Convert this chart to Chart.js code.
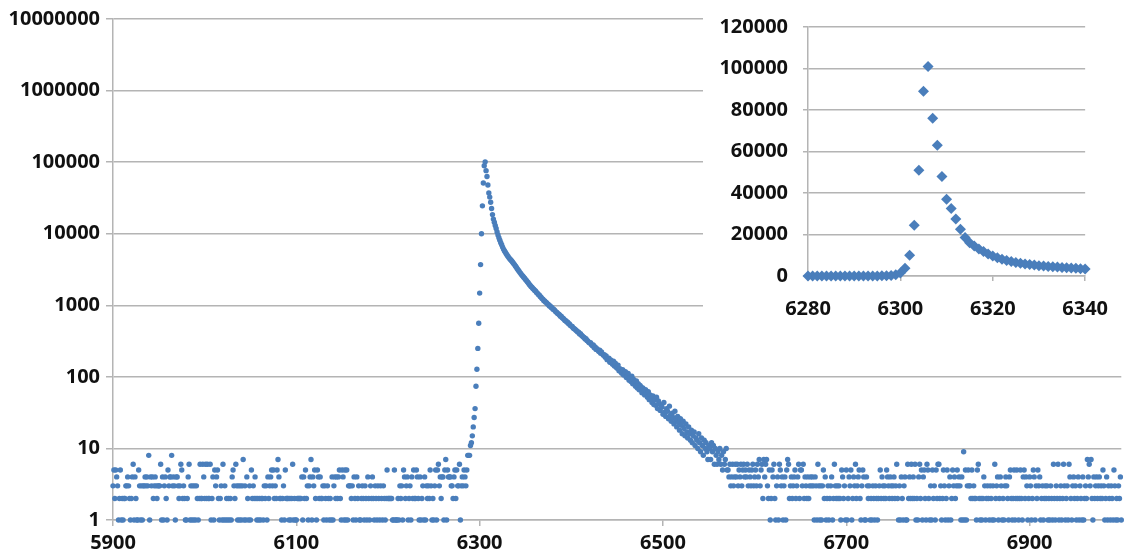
<!DOCTYPE html>
<html>
<head>
<meta charset="utf-8">
<script src="https://cdn.jsdelivr.net/npm/chart.js@4/dist/chart.umd.min.js"></script>
<style>
html,body{margin:0;padding:0;background:#ffffff;}
#wrap{position:relative;width:1124px;height:556px;overflow:hidden;}
#main{position:absolute;left:0;top:0;}
#inset{position:absolute;left:703px;top:0;background:#ffffff;}
</style>
</head>
<body>
<div id="wrap">
<canvas id="main" width="1124" height="556"></canvas>
<canvas id="inset" width="421" height="330"></canvas>
</div>
<script>
// ---------------- DATA ----------------
const firstChannel = 5900;

// counts per channel 5900..6287 (one digit per channel)
const baselineLeft = [
  "3525431251","2122334321","2461421153","1313343438","1434234323",
  "3361413421","5344834314","4323652321","1246131313","1321262264",
  "2626226124","1534521231","6131212121","4532631313","1371314213",
  "1523242121","2122132314","2345352325","7422123152","2212126121",
  "1222224142","5231347143","5215424223","1321321214","1342424521",
  "5415151333","2314214231","1232132142","1324213213","2132132125",
  "2222211511","1213231542","3412314252","2542141231","4132325312",
  "1351563424","4157154443","3245253361","34354358"
];

// counts 6288..6306 (rising edge and peak)
const risingEdge = [8, 8, 11, 12, 15, 20, 27, 36, 74, 128, 250, 560, 1480, 3700, 10000, 24500, 51000, 89000, 101000];

// counts 6307..6340 (fast decay)
const fastDecay = [76000, 63000, 48000, 37000, 32500, 27500, 22500, 18500, 16000, 14500,
  13000, 11800, 10600, 9600, 8800, 8100, 7500, 7000, 6500, 6100,
  5800, 5500, 5250, 5000, 4800, 4600, 4450, 4300, 4150, 4000,
  3850, 3700, 3550, 3400];

// counts 6341..6570 (slow decay tail)
const slowDecay = [
  3250, 3110, 3000, 2860, 2760, 2640, 2570, 2460, 2390, 2290,
  2220, 2130, 2070, 1970, 1910, 1830, 1790, 1720, 1680, 1610,
  1580, 1510, 1480, 1410, 1390, 1330, 1300, 1240, 1220, 1160,
  1150, 1100, 1090, 1040, 1030, 980, 975, 930, 925, 880,
  872, 845, 810, 802, 770, 756, 740, 705, 702, 668,
  660, 640, 615, 610, 585, 578, 552, 548, 520, 512,
  505, 482, 470, 465, 448, 438, 425, 420, 396, 402,
  382, 372, 360, 356, 338, 342, 322, 318, 305, 298,
  300, 282, 272, 280, 255, 262, 242, 248, 236, 226,
  236, 214, 222, 208, 200, 204, 188, 196, 174, 180,
  182, 160, 172, 158, 150, 166, 142, 155, 136, 132,
  146, 122, 130, 118, 112, 126, 106, 110, 118, 98,
  104, 112, 90, 96, 86, 102, 80, 92, 84, 74,
  88, 70, 80, 66, 76, 72, 60, 70, 64, 56,
  66, 58, 52, 62, 48, 56, 50, 44, 54, 41,
  48, 40, 52, 36, 46, 42, 34, 40, 38, 30,
  44, 32, 28, 36, 33, 26, 39, 29, 24, 31,
  27, 22, 33, 25, 20, 28, 23, 18, 26, 21,
  16, 24, 19, 15, 22, 17, 14, 20, 16, 13,
  18, 12, 15, 17, 11, 14, 13, 10, 16, 12,
  9, 14, 11, 8, 13, 10, 12, 9, 7, 11,
  10, 7, 12, 9, 11, 6, 10, 8, 6, 9,
  7, 10, 6, 8, 5, 9, 6, 7, 10, 5
];

// counts per channel 6571..7000 (one digit per channel)
const baselineRight = [
  "5463463464","6354635645","4635435634","5364735627","4673251254",
  "6213416534","1341576234","2345234625","5362432423","4343143163",
  "1313524123","1234126323","2321542315","1243512436","2345213541",
  "1432312132","1321235243","2325432432","3423621314","2134116242",
  "6242612146","2514521652","1315231526","6231253125","1341253423",
  "5343141915","1353325232","2156212124","3123213213","1623412431",
  "2134321452","1251252125","2145243124","3125413253","4123123231",
  "2132162132","6123126312","3164213423","1241321412","3274637214",
  "2342342325","3124132132","1531213241"
];

const mainXTicks = [5900, 6100, 6300, 6500, 6700, 6900];
const mainYTicks = [1, 10, 100, 1000, 10000, 100000, 1000000, 10000000];
const insetXTicks = [6280, 6300, 6320, 6340];
const insetYTicks = [0, 20000, 40000, 60000, 80000, 100000, 120000];

// ---------------- BUILD ----------------
const counts = [];
baselineLeft.join("").split("").forEach(c => counts.push(Number(c)));
counts.push(...risingEdge, ...fastDecay, ...slowDecay);
baselineRight.join("").split("").forEach(c => counts.push(Number(c)));

const allPoints = counts.map((v, i) => ({ x: firstChannel + i, y: v }));
const logPoints = allPoints.filter(p => p.y > 0);
const insetPoints = allPoints.filter(p => p.x >= insetXTicks[0] && p.x <= insetXTicks[insetXTicks.length - 1]);

const blue = '#4a7ebb';
const gridColor = '#b4b4b4';
const textColor = '#111111';
const tickFont = { family: '"Open Sans", "Liberation Sans", sans-serif', size: 20, weight: 'bold' };
const plain = v => String(v);

function fixedTicks(list) {
  return function (scale) { scale.ticks = list.map(v => ({ value: v })); };
}

new Chart(document.getElementById('main'), {
  type: 'scatter',
  data: { datasets: [{
    data: logPoints,
    pointStyle: 'circle',
    pointRadius: 2.7,
    pointHoverRadius: 2.7,
    pointBackgroundColor: blue,
    pointBorderWidth: 0,
    showLine: false,
    clip: false
  }] },
  options: {
    responsive: false,
    animation: false,
    events: [],
    layout: { padding: { top: 19, right: 2, left: 0, bottom: 0 } },
    plugins: { legend: { display: false }, tooltip: { enabled: false } },
    scales: {
      x: {
        type: 'linear', min: 5900, max: 7000,
        afterBuildTicks: fixedTicks(mainXTicks),
        afterFit: s => { s.height = 36; },
        grid: { drawOnChartArea: false, drawTicks: true, tickLength: 6, color: gridColor, lineWidth: 1.5 },
        border: { display: true, color: gridColor, width: 1.5 },
        ticks: { font: tickFont, color: textColor, padding: 5, maxRotation: 0, autoSkip: false, callback: plain }
      },
      y: {
        type: 'logarithmic', min: 1, max: 10000000,
        afterBuildTicks: fixedTicks(mainYTicks),
        afterFit: s => { s.width = 113; },
        grid: { color: gridColor, lineWidth: 1.5, tickLength: 7 },
        border: { display: true, color: gridColor, width: 1.5 },
        ticks: { font: tickFont, color: textColor, padding: 6, autoSkip: false, callback: plain }
      }
    }
  }
});

new Chart(document.getElementById('inset'), {
  type: 'scatter',
  data: { datasets: [{
    data: insetPoints,
    pointStyle: 'rectRot',
    pointRadius: 5.5,
    pointHoverRadius: 5.5,
    pointBackgroundColor: blue,
    pointBorderWidth: 0,
    showLine: false,
    clip: false
  }] },
  options: {
    responsive: false,
    animation: false,
    events: [],
    layout: { padding: { top: 26, right: 28, left: 0, bottom: 0 } },
    plugins: { legend: { display: false }, tooltip: { enabled: false } },
    scales: {
      x: {
        type: 'linear', min: 6280, max: 6340,
        afterBuildTicks: fixedTicks(insetXTicks),
        afterFit: s => { s.height = 54; },
        grid: { drawOnChartArea: false, drawTicks: true, tickLength: 5, color: gridColor, lineWidth: 1.5 },
        border: { display: true, color: gridColor, width: 1.5 },
        ticks: { font: tickFont, color: textColor, padding: 16, maxRotation: 0, autoSkip: false, callback: plain }
      },
      y: {
        type: 'linear', min: 0, max: 120000,
        afterBuildTicks: fixedTicks(insetYTicks),
        afterFit: s => { s.width = 105; },
        grid: { color: gridColor, lineWidth: 1.5, tickLength: 5 },
        border: { display: true, color: gridColor, width: 1.5 },
        ticks: { font: tickFont, color: textColor, padding: 15, autoSkip: false, callback: plain }
      }
    }
  }
});
</script>
</body>
</html>
